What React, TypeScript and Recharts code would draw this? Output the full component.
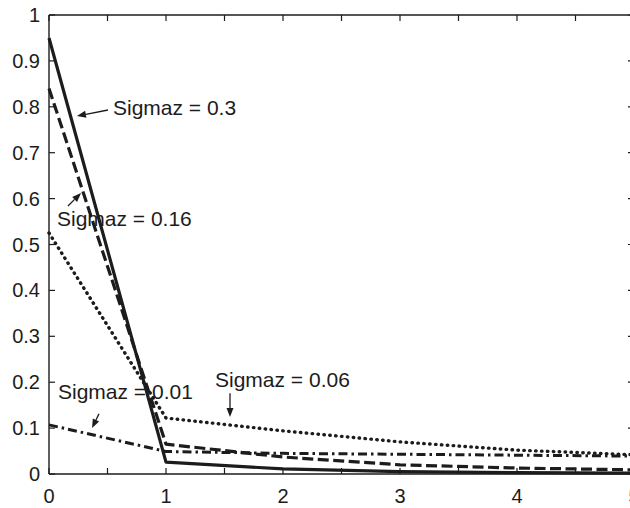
import { LineChart, Line, XAxis, YAxis, ReferenceLine, ReferenceDot } from "recharts"

// values
const xValues = [0, 1, 2, 3, 4, 5]
const sigma03 = [0.95, 0.026, 0.011, 0.005, 0.003, 0.002]
const sigma016 = [0.84, 0.065, 0.037, 0.02, 0.013, 0.009]
const sigma006 = [0.525, 0.122, 0.094, 0.07, 0.052, 0.042]
const sigma001 = [0.107, 0.049, 0.045, 0.043, 0.041, 0.039]

const xTicks = [0, 0.5, 1, 1.5, 2, 2.5, 3, 3.5, 4, 4.5, 5]
const yTicks = [0, 0.1, 0.2, 0.3, 0.4, 0.5, 0.6, 0.7, 0.8, 0.9, 1]

// annotation text anchors and arrows, in data units
const notes = [
  { text: "Sigmaz = 0.3", x: 0.547, y: 0.782, from: [0.504, 0.793], to: [0.239, 0.78] },
  { text: "Sigmaz = 0.16", x: 0.068, y: 0.54, from: [0.162, 0.584], to: [0.274, 0.612] },
  { text: "Sigmaz = 0.01", x: 0.077, y: 0.163, from: [0.427, 0.131], to: [0.368, 0.1] },
  { text: "Sigmaz = 0.06", x: 1.419, y: 0.19, from: [1.547, 0.176], to: [1.547, 0.124] },
]

const data = xValues.map((x, i) => ({
  x,
  s03: sigma03[i],
  s016: sigma016[i],
  s006: sigma006[i],
  s001: sigma001[i],
}))

const W = 660
const H = 508
const TOP = 15
const LEFT = 49
const BOTTOM = 474
const RIGHT = 634
const INK = "#1c1c1c"
const FONT = "'Liberation Sans', Arial, Helvetica, sans-serif"

function XTick(props: any) {
  const { x, payload } = props
  const v = payload.value
  return (
    <g>
      <line x1={x} x2={x} y1={BOTTOM} y2={BOTTOM - 6} stroke={INK} strokeWidth={1.2} />
      <line x1={x} x2={x} y1={TOP} y2={TOP + 6} stroke={INK} strokeWidth={1.2} />
      {Number.isInteger(v) && (
        <text x={x} y={BOTTOM + 29} textAnchor="middle" fontSize={20} fontFamily={FONT} fill={INK}>
          {v}
        </text>
      )}
    </g>
  )
}

function YTick(props: any) {
  const { y, payload } = props
  return (
    <g>
      <line x1={LEFT} x2={LEFT + 6} y1={y} y2={y} stroke={INK} strokeWidth={1.2} />
      <line x1={RIGHT} x2={RIGHT - 6} y1={y} y2={y} stroke={INK} strokeWidth={1.2} />
      <text x={LEFT - 9} y={y + 7} textAnchor="end" fontSize={20} fontFamily={FONT} fill={INK}>
        {String(payload.value)}
      </text>
    </g>
  )
}

function Arrow(props: any) {
  const { x1, y1, x2, y2 } = props
  const a = Math.atan2(y2 - y1, x2 - x1)
  const len = 9
  const half = 3.5
  const bx = x2 - len * Math.cos(a)
  const by = y2 - len * Math.sin(a)
  const px = -Math.sin(a) * half
  const py = Math.cos(a) * half
  return (
    <g>
      <line x1={x1} y1={y1} x2={bx} y2={by} stroke={INK} strokeWidth={1.3} />
      <polygon points={`${x2},${y2} ${bx + px},${by + py} ${bx - px},${by - py}`} fill={INK} />
    </g>
  )
}

export default function App() {
  return (
    <div style={{ position: "absolute", left: 0, top: 0, width: 630, height: 508, overflow: "hidden", background: "#fff" }}>
      <LineChart
        width={W}
        height={H}
        data={data}
        margin={{ top: TOP, left: LEFT - 1, right: W - RIGHT, bottom: H - BOTTOM - 1 }}
      >
        <XAxis
          type="number"
          dataKey="x"
          domain={[0, 5]}
          ticks={xTicks}
          interval={0}
          height={1}
          tickSize={0}
          tickMargin={0}
          tickLine={false}
          axisLine={{ stroke: INK, strokeWidth: 1.4 }}
          tick={<XTick />}
        />
        <YAxis
          type="number"
          domain={[0, 1]}
          ticks={yTicks}
          interval={0}
          width={1}
          tickSize={0}
          tickMargin={0}
          tickLine={false}
          axisLine={{ stroke: INK, strokeWidth: 1.4 }}
          tick={<YTick />}
        />
        <ReferenceLine y={1} stroke={INK} strokeWidth={1.4} ifOverflow="visible" />
        <ReferenceLine x={5} stroke={INK} strokeWidth={1.4} ifOverflow="visible" />

        <Line dataKey="s006" stroke={INK} strokeWidth={3.4} strokeDasharray="0.5 5.4" strokeLinecap="round" dot={false} isAnimationActive={false} />
        <Line dataKey="s001" stroke={INK} strokeWidth={3} strokeDasharray="9 4 2.5 4" strokeLinejoin="round" dot={false} isAnimationActive={false} />
        <Line dataKey="s016" stroke={INK} strokeWidth={3.2} strokeDasharray="11 4.5" strokeLinejoin="round" dot={false} isAnimationActive={false} />
        <Line dataKey="s03" stroke={INK} strokeWidth={3.2} strokeLinejoin="round" dot={false} isAnimationActive={false} />

        {notes.map((n) => (
          <ReferenceLine
            key={n.text + "-arrow"}
            segment={[{ x: n.from[0], y: n.from[1] }, { x: n.to[0], y: n.to[1] }]}
            ifOverflow="visible"
            shape={<Arrow />}
          />
        ))}
        {notes.map((n) => (
          <ReferenceDot
            key={n.text}
            x={n.x}
            y={n.y}
            r={0}
            ifOverflow="visible"
            shape={(p: any) => (
              <text x={p.cx} y={p.cy} fontSize={21} fontFamily={FONT} fill={INK}>
                {n.text}
              </text>
            )}
          />
        ))}
      </LineChart>
    </div>
  )
}
